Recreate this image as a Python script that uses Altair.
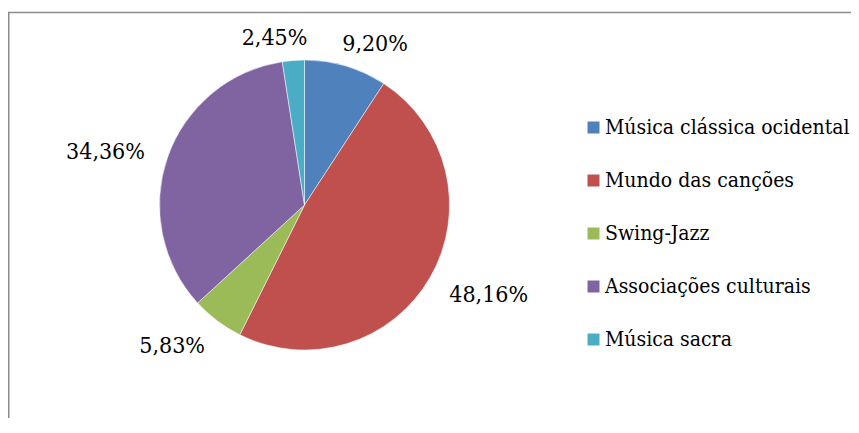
import altair as alt
import pandas as pd

categories = ["Música clássica ocidental", "Mundo das canções", "Swing-Jazz",
              "Associações culturais", "Música sacra"]
values = [9.20, 48.16, 5.83, 34.36, 2.45]
colors = ["#4F81BD", "#C0504D", "#9BBB59", "#8064A2", "#4BACC6"]

df = pd.DataFrame({
    "category": categories,
    "value": values,
    "idx": list(range(len(categories))),
})
df["label"] = [f"{v:.2f}%".replace(".", ",") for v in values]

FONT = "DejaVu Serif Condensed, DejaVu Serif, serif"
W, H = 843, 410
CX, CY, R = 296.5, 197, 145
LA, LB, SIDE, DY = 195, 172, 15, 4  # label placement: ellipse semi-axes, side push, drop

base = alt.Chart(df)

pie = base.mark_arc(outerRadius=R, stroke="white", strokeWidth=0.5).encode(
    theta=alt.Theta("value:Q", stack=True),
    color=alt.Color(
        "category:N",
        scale=alt.Scale(domain=categories, range=colors),
        sort=categories,
        legend=alt.Legend(
            title=None, orient="none", legendX=575, legendY=109,
            symbolType="square", symbolSize=144, symbolStrokeWidth=0,
            labelFont=FONT, labelFontSize=21, labelColor="black",
            labelLimit=400, rowPadding=31, labelOffset=1, padding=0,
        ),
    ),
    order=alt.Order("idx:Q"),
    x=alt.value(CX),
    y=alt.value(CY),
)

labels = base.transform_joinaggregate(
    total="sum(value)"
).transform_window(
    cum="sum(value)", sort=[alt.SortField("idx")], frame=[None, 0]
).transform_calculate(
    ang="2*PI*(datum.cum - datum.value/2)/datum.total"
).transform_calculate(
    lx=f"{CX} + {LA}*sin(datum.ang) + (sin(datum.ang) >= 0 ? {SIDE} : -{SIDE})",
    ly=f"{CY + DY} - {LB}*cos(datum.ang)",
).mark_text(
    font=FONT, fontSize=23, color="black",
    align="center", baseline="middle",
).encode(
    x=alt.X("lx:Q", scale=None),
    y=alt.Y("ly:Q", scale=None),
    text="label:N",
)

frame_left = alt.Chart(df.head(1)).mark_rule(color="#8c8c8c", strokeWidth=1.5).encode(
    x=alt.value(0.75), y=alt.value(4.5), y2=alt.value(H)
)
frame_top = alt.Chart(df.head(1)).mark_rule(color="#8c8c8c", strokeWidth=1.5).encode(
    x=alt.value(0), x2=alt.value(W), y=alt.value(4.5)
)

chart = alt.layer(frame_left, frame_top, pie, labels).properties(
    width=W, height=H, padding=0, autosize=alt.AutoSizeParams(type="none")
).configure_view(stroke=None)

chart.save("out.html", embed_options={"renderer": "svg", "actions": False})
